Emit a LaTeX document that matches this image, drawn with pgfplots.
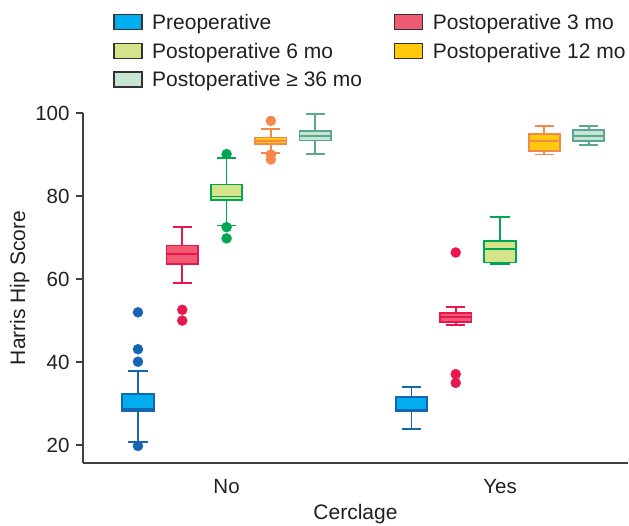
\documentclass[border=0pt]{standalone}
\usepackage{fontspec}
\setmainfont{Liberation Sans}
\usepackage{pgfplots}
\pgfplotsset{compat=1.18}

\definecolor{preF}{HTML}{00AEEF}
\definecolor{preD}{HTML}{1565B0}
\definecolor{p3F}{HTML}{F05A72}
\definecolor{p3D}{HTML}{E8184F}
\definecolor{p6F}{HTML}{D5E48A}
\definecolor{p6D}{HTML}{00A651}
\definecolor{p12F}{HTML}{FFC90E}
\definecolor{p12D}{HTML}{F5884B}
\definecolor{p36F}{HTML}{C6E5D3}
\definecolor{p36D}{HTML}{5BA68E}
\definecolor{txt}{HTML}{231F20}

\newcommand\fs{\fontsize{21}{25}\selectfont}
\newcommand\fst{\fontsize{20.5}{24}\selectfont}

% one box: position, lower whisker, lower quartile, median, upper quartile, upper whisker, line colour, fill colour
\newcommand{\bx}[8]{%
  \pgfmathsetmacro\xl{#1-0.0575}\pgfmathsetmacro\xr{#1+0.0575}%
  \pgfmathsetmacro\wl{#1-0.035}\pgfmathsetmacro\wr{#1+0.035}%
  \edef\doplot{%
    \noexpand\addplot[draw=#7, line width=1.8pt, forget plot] coordinates {(#1,#2) (#1,#3)};
    \noexpand\addplot[draw=#7, line width=1.8pt, forget plot] coordinates {(#1,#5) (#1,#6)};
    \noexpand\addplot[draw=#7, line width=1.8pt, forget plot] coordinates {(\wl,#2) (\wr,#2)};
    \noexpand\addplot[draw=#7, line width=1.8pt, forget plot] coordinates {(\wl,#6) (\wr,#6)};
    \noexpand\addplot[draw=#7, fill=#8, line width=1.8pt, forget plot] coordinates {(\xl,#3) (\xr,#3) (\xr,#5) (\xl,#5)} -- cycle;
    \noexpand\addplot[draw=#7, line width=1.8pt, forget plot] coordinates {(\xl,#4) (\xr,#4)};
  }\doplot
}
\pgfplotsset{outl/.style={only marks, mark=*, mark size=5pt, color=#1, forget plot}}

\begin{document}
\begin{tikzpicture}
\begin{axis}[
  at={(0pt,0pt)}, anchor=south west,
  scale only axis,
  width=545pt, height=350pt,
  xmin=0.475, xmax=2.468,
  ymin=15.7, ymax=100,
  axis lines=left,
  axis line style={-, black!75, line width=1.5pt},
  xtick={1,2}, xticklabels={No,Yes},
  ytick={20,40,60,80,100},
  xtick style={draw=none},
  ytick style={black!75, line width=1.3pt},
  tick align=outside,
  major tick length=7pt,
  /pgf/number format/assume math mode=true,
  tick label style={font=\fst, text=txt},
  yticklabel style={xshift=-3pt},
  xticklabel style={yshift=-6pt},
  label style={font=\fs, text=txt},
  xlabel={Cerclage},
  ylabel={Harris Hip Score},
  xlabel style={at={(axis description cs:0.5,-0.145)}, anchor=center},
  ylabel style={at={(axis description cs:-0.116,0.5)}, anchor=center},
  legend columns=2,
  legend cell align=left,
  legend style={at={(axis description cs:0.0555,1.2886)}, anchor=north west,
    draw=none, fill=none, font=\fs, text=txt, inner sep=0pt,
    /tikz/every even column/.append style={column sep=30pt},
    row sep=8pt},
  legend image code/.code={\draw[#1, draw=black!80, line width=1.1pt] (0pt,-7pt) rectangle (28pt,8pt); \path (36pt,0pt);},
  clip=false,
]
\addlegendimage{fill=preF}\addlegendentry{Preoperative}
\addlegendimage{fill=p3F}\addlegendentry{Postoperative 3 mo}
\addlegendimage{fill=p6F}\addlegendentry{Postoperative 6 mo}
\addlegendimage{fill=p12F}\addlegendentry{Postoperative 12 mo}
\addlegendimage{fill=p36F}\addlegendentry{Postoperative ≥ 36 mo}

% Cerclage: No
\bx{0.676}{20.8}{28.2}{28.8}{32.3}{37.9}{preD}{preF}
\bx{0.838}{59.0}{63.6}{66.0}{68.1}{72.6}{p3D}{p3F}
\bx{1.000}{72.9}{79.0}{79.9}{82.8}{89.1}{p6D}{p6F}
\bx{1.162}{90.4}{92.5}{93.3}{94.1}{96.2}{p12D}{p12F}
\bx{1.324}{90.1}{93.4}{94.5}{95.7}{99.8}{p36D}{p36F}
% Cerclage: Yes
\bx{1.676}{23.8}{28.3}{28.6}{31.6}{34.0}{preD}{preF}
\bx{1.838}{48.9}{49.6}{50.8}{51.9}{53.3}{p3D}{p3F}
\bx{2.000}{63.7}{64.0}{67.2}{69.2}{75.0}{p6D}{p6F}
\bx{2.162}{90.0}{90.8}{93.3}{95.0}{96.9}{p12D}{p12F}
\bx{2.324}{92.3}{93.2}{94.5}{96.0}{96.9}{p36D}{p36F}

% outliers
\addplot[outl=preD] coordinates {(0.676,19.8) (0.676,40.1) (0.676,43.1) (0.676,52.0)};
\addplot[outl=p3D] coordinates {(0.838,52.6) (0.838,50.0) (1.838,66.4) (1.838,37.1) (1.838,35.0)};
\addplot[outl=p6D] coordinates {(1.000,90.1) (1.000,72.5) (1.000,69.8)};
\addplot[outl=p12D] coordinates {(1.162,98.1) (1.162,90.0) (1.162,88.8)};
\end{axis}
\pgfresetboundingbox
\path[use as bounding box] (-83pt,-62pt) rectangle (546pt,463pt);
\end{tikzpicture}
\end{document}
